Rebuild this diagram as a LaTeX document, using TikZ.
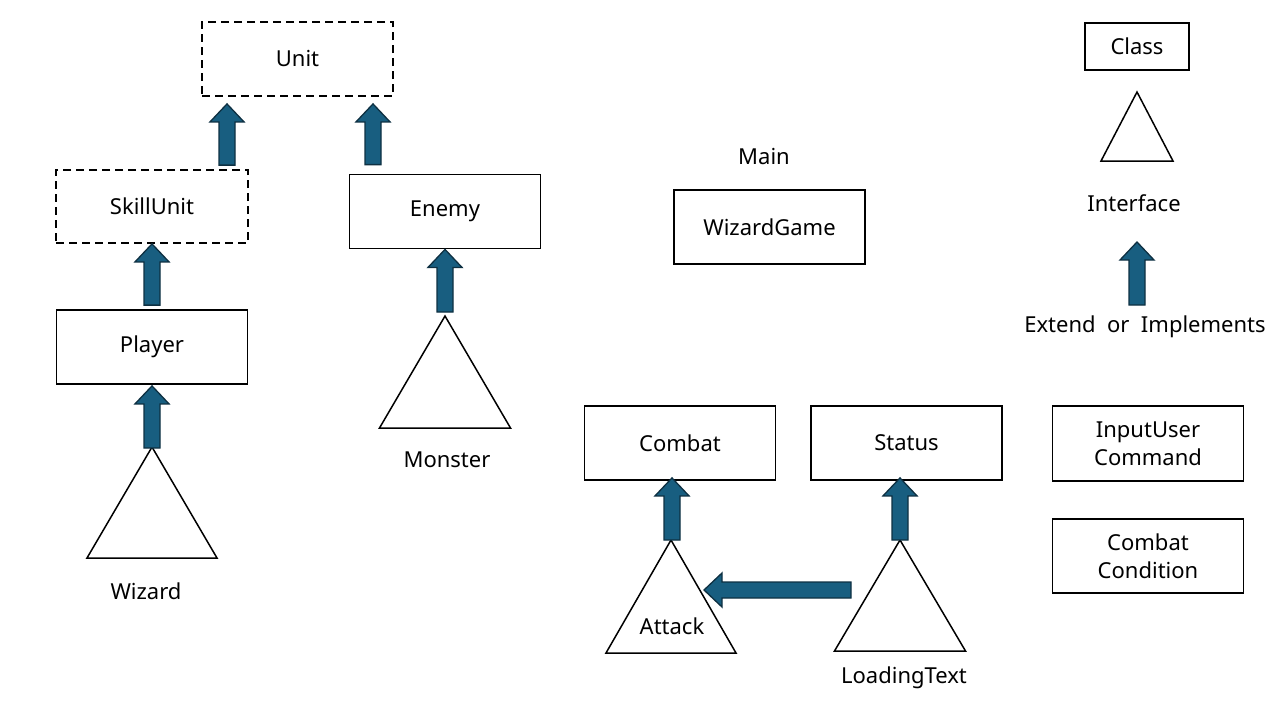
\documentclass[tikz,border=0pt]{standalone}
\usepackage{fontspec}
\setmainfont{Noto Sans}
\usetikzlibrary{calc,positioning}
\definecolor{arrowfill}{RGB}{24,94,128}
\definecolor{arrowline}{RGB}{14,48,66}

\begin{document}
\begin{tikzpicture}
[ x=1pt, y=-1pt, font=\fontsize{22}{28}\selectfont
, class/.style={rectangle, draw, line width=1.8pt, minimum width=191pt, minimum height=74pt, align=center}
, abstract/.style={class, dash pattern=on 8pt off 5pt}
, tri/.style={draw, line width=1.5pt, line join=miter}
, txt/.style={inner sep=0pt}
, blockarrow/.style={draw=arrowline, fill=arrowfill, line width=1.3pt, line join=miter,
    to path={(\tikztostart) coordinate (ba-s) (\tikztotarget) coordinate (ba-t)
      ($(ba-t)!18pt!(ba-s)$) coordinate (ba-n)
      ($(ba-s)!8pt!90:(ba-t)$) -- ($(ba-n)!8pt!-90:(ba-s)$) -- ($(ba-n)!17pt!-90:(ba-s)$)
      -- (ba-t) -- ($(ba-n)!17pt!90:(ba-s)$) -- ($(ba-n)!8pt!90:(ba-s)$)
      -- ($(ba-s)!8pt!-90:(ba-t)$) -- cycle}}
]
\useasboundingbox (0,0) rectangle (1280,720);
% Classes:
\node (unit) [abstract] at (297.5,59) {Unit};
\node (skill) [abstract, minimum width=192pt, minimum height=73pt] at (152,206.5) {SkillUnit};
\node (enemy) [class] at (445,211.5) {Enemy};
\node (player) [class] at (152,347) {Player};
\node (main) [txt] at (764,157) {Main};
\node (game) [class] at (769.5,227) {WizardGame};
\node (combat) [class] at (680,443) {Combat};
\node (status) [class] at (906.5,443) {Status};
\node (input) [class, minimum height=75pt] at (1148,443.5) {InputUser\\Command};
\node (cond) [class] at (1148,556) {Combat\\Condition};
% Interfaces:
\coordinate (wizard) at (152,447);
\draw [tri] (wizard) -- ++(65,111) -- ++(-130,0) -- cycle;
\node (wizard-lbl) [txt] at (146,591) {Wizard};
\coordinate (monster) at (445,316);
\draw [tri] (monster) -- ++(65.5,112) -- ++(-131,0) -- cycle;
\node (monster-lbl) [txt] at (447,460) {Monster};
\coordinate (attack) at (671,540);
\draw [tri] (attack) -- ++(65,113) -- ++(-130,0) -- cycle;
\node (attack-lbl) [txt] at (672,626) {Attack};
\coordinate (loading) at (900,540);
\draw [tri] (loading) -- ++(65.5,111) -- ++(-131,0) -- cycle;
\node (loading-lbl) [txt] at (904,678) {LoadingText};
% Legend:
\node (key-class) [class, minimum width=104pt, minimum height=47pt] at (1137,46.5) {Class};
\coordinate (key-tri) at (1137,92);
\draw [tri] (key-tri) -- ++(36,69) -- ++(-72,0) -- cycle;
\node (key-iface) [txt] at (1134,203) {Interface};
\node (key-ext) [txt] at (1145,327) {Extend\ \ or\ \ Implements};
% Extend / implements arrows:
\draw [blockarrow] ([xshift=75pt,yshift=4pt]skill.north) to ([xshift=-70.5pt,yshift=-7pt]unit.south);
\draw [blockarrow] ([xshift=-72pt,yshift=9pt]enemy.north) to ([xshift=75.5pt,yshift=-7pt]unit.south);
\draw [blockarrow] ([yshift=4pt]player.north) to (skill.south);
\draw [blockarrow] ([yshift=-1pt]wizard) to ([yshift=-1pt]player.south);
\draw [blockarrow] ([yshift=4pt]monster) to (enemy.south);
\draw [blockarrow] ([xshift=1pt]attack) to ([xshift=-8pt,yshift=3pt]combat.south);
\draw [blockarrow] (loading) to ([xshift=-6.5pt,yshift=3pt]status.south);
\draw [blockarrow] ([xshift=-49pt,yshift=-50pt]loading) to ([xshift=33pt,yshift=-50pt]attack);
\draw [blockarrow] ([xshift=-8pt,yshift=22pt]key-ext.center) to ([xshift=3pt,yshift=-39pt]key-iface.center);
\end{tikzpicture}
\end{document}
